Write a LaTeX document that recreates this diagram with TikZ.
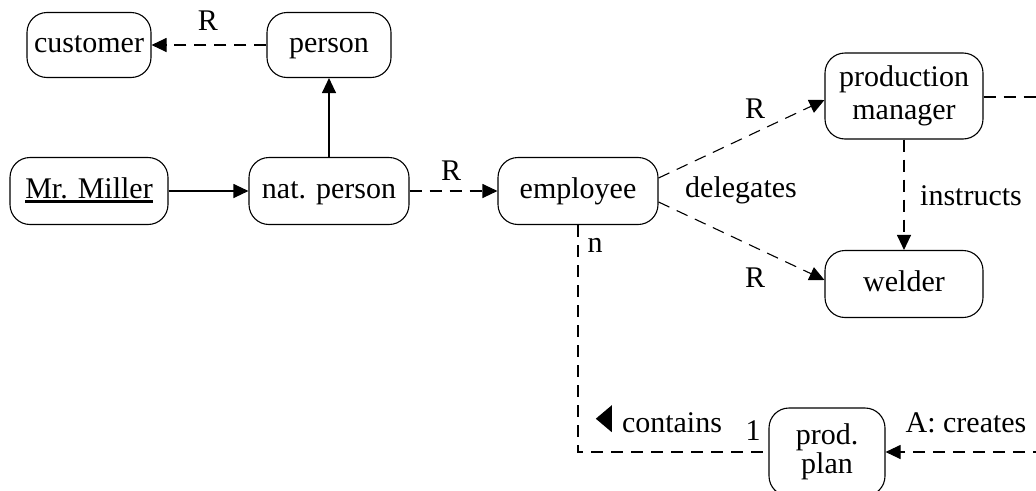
\documentclass[tikz,border=0pt]{standalone}
\usepackage{fontspec}
\setmainfont{Liberation Serif}
\usetikzlibrary{arrows.meta}
\begin{document}
\begin{tikzpicture}[x=1pt,y=-1pt,
  txt/.style={font=\fontsize{30}{33}\selectfont},
  box/.style={txt, draw, rounded corners=20pt, line width=1.1pt, inner sep=0pt, align=center},
  oneline/.style={box, text height=21pt, text depth=7pt},
  lbl/.style={txt, inner sep=0pt, anchor=base},
  link/.style={line width=1.1pt},
  rel/.style={link, dash pattern=on 12pt off 8pt},
  tip/.style={-{Triangle[length=15pt,width=14pt]}},
]
\path[use as bounding box, clip] (0,0) rectangle (1036,490);

% objects
\node[oneline, minimum width=124pt, minimum height=65pt] (cust) at (89,45) {customer};
\node[oneline, minimum width=124pt, minimum height=65pt] (pers) at (329,45) {person};
\node[oneline, minimum width=158pt, minimum height=67pt] (mill) at (89,191)
  {\setbox0\hbox{Mr. Miller}\rlap{\raisebox{-4.5pt}{\rule{\wd0}{2.6pt}}}\box0};
\node[oneline, minimum width=160pt, minimum height=67pt] (nat) at (329,191) {nat. person};
\node[oneline, minimum width=160pt, minimum height=67pt] (emp) at (578,191) {employee};
\node[box, minimum width=158pt, minimum height=86pt] (pm) at (904,96) {production\\manager};
\node[oneline, minimum width=158pt, minimum height=67pt] (weld) at (904,284) {welder};
\node[box, font=\fontsize{30}{29}\selectfont, minimum width=116pt, minimum height=88pt] (plan) at (827,452) {prod.\\plan};

% loose ends leaving the drawing area
\coordinate (pmout) at (1045,97);
\coordinate (creator) at (1045,452);

% connectors
\draw[rel, tip] (pers) -- (cust);
\draw[link, tip] (nat) -- (pers);
\draw[link, tip] (mill) -- (nat);
\draw[rel, tip] (nat) -- (emp);
\draw[rel, tip] ([yshift=13pt]emp.east) -- ([yshift=-4pt]pm.west);
\draw[rel, tip] ([yshift=-11pt]emp.east) -- ([yshift=4pt]weld.west);
\draw[rel, tip] (pm) -- (weld);
\draw[rel] (pm.east |- pmout) -- (pmout);
\draw[rel] (emp.south) |- (plan.west);
\draw[rel, tip] (creator) -- (creator -| plan.east);

% labels
\node[lbl] (rcust) at (208,30) {R};
\node[lbl] (remp) at (451,180) {R};
\node[lbl] (rpm) at (755,118) {R};
\node[lbl] (rweld) at (755,287) {R};
\node[lbl] (deleg) at (741,197) {delegates};
\node[lbl] (instr) at (971,205) {instructs};
\node[lbl] (nmult) at (595,252) {n};
\node[lbl] (onemult) at (753,440) {1};
\node[lbl] (creates) at (966,432) {A: creates};
\node[lbl] (contains) at (672,432) {contains};
\fill (contains.west) ++(-10pt,-10pt) -- ++(-16pt,13.5pt) -- ++(16pt,13.5pt) -- cycle;
\end{tikzpicture}
\end{document}
